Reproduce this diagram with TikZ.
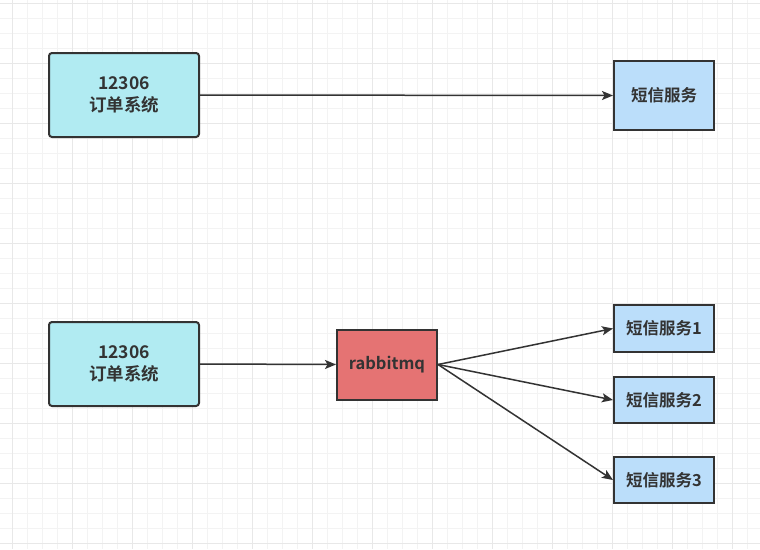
\documentclass[tikz,border=0pt]{standalone}
\usepackage{fontspec}
\newfontfamily\cjk{Noto Sans CJK SC}[BoldFont={Noto Sans CJK SC Bold}]
\usetikzlibrary{arrows.meta}
\definecolor{gridminor}{HTML}{F3F3F3}
\definecolor{gridmajor}{HTML}{E8E8E8}
\definecolor{txt}{HTML}{333333}
\definecolor{cyanfill}{HTML}{B1EBF2}
\definecolor{bluefill}{HTML}{BBDEFA}
\definecolor{redfill}{HTML}{E57373}
\tikzset{
  box/.style={draw=txt, line width=2pt, text=txt, inner sep=0pt, align=center,
    font=\cjk\bfseries\fontsize{16.5}{21}\selectfont},
  sysbox/.style={box, fill=cyanfill, rounded corners=3pt, minimum width=150pt, minimum height=84pt,
    font=\cjk\bfseries\fontsize{17.5}{21.5}\selectfont},
  smsbox/.style={box, fill=bluefill, minimum width=100pt},
  mqbox/.style={box, fill=redfill, minimum width=100pt, minimum height=70pt},
  conn/.style={draw=txt, line width=1.5pt, -{Stealth[length=11pt,width=9pt,inset=2.5pt]}}
}
\begin{document}
\begin{tikzpicture}[x=1pt,y=-1pt]
\useasboundingbox (0,0) rectangle (760,549);
\fill[white] (0,0) rectangle (760,549);
% grid
\foreach \k in {0,...,49}{
  \pgfmathsetmacro{\xx}{12.7+15*\k}
  \draw[gridminor, line width=1pt] (\xx,0) -- (\xx,549);
}
\foreach \k in {0,...,36}{
  \pgfmathsetmacro{\yy}{3.3+15*\k}
  \draw[gridminor, line width=1pt] (0,\yy) -- (760,\yy);
}
\foreach \k in {0,4,...,48}{
  \pgfmathsetmacro{\xx}{12.7+15*\k}
  \draw[gridmajor, line width=1pt] (\xx,0) -- (\xx,549);
}
\foreach \k in {0,4,...,36}{
  \pgfmathsetmacro{\yy}{3.3+15*\k}
  \draw[gridmajor, line width=1pt] (0,\yy) -- (760,\yy);
}
% nodes
\node[sysbox] (sys1) at (124,95) {12306\\订单系统};
\node[smsbox, minimum height=69pt] (sms) at (664,95.5) {短信服务};
\node[sysbox] (sys2) at (124,364) {12306\\订单系统};
\node[mqbox] (mq) at (387,364.5) {rabbitmq};
\node[smsbox, minimum height=47pt] (sms1) at (664,328.5) {短信服务1};
\node[smsbox, minimum height=46pt] (sms2) at (664,400) {短信服务2};
\node[smsbox, minimum height=46pt] (sms3) at (664,480) {短信服务3};
% connectors
\draw[conn] (sys1.east) -- (sms.west);
\draw[conn] (sys2.east) -- (mq.west);
\draw[conn] (mq.east) -- (sms1.west);
\draw[conn] (mq.east) -- (sms2.west);
\draw[conn] (mq.east) -- (sms3.west);
\end{tikzpicture}
\end{document}
